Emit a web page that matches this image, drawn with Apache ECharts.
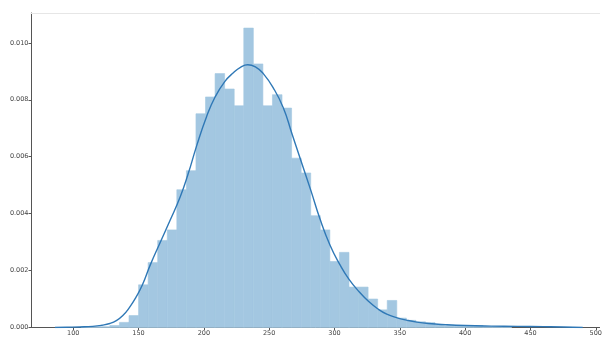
<!DOCTYPE html>
<html>
<head>
<meta charset="utf-8">
<script src="https://cdn.jsdelivr.net/npm/echarts@6/dist/echarts.min.js"></script>
<style>
  html, body { margin: 0; padding: 0; background: #fff; }
  #chart { width: 605px; height: 337px; }
</style>
</head>
<body>
<div id="chart"></div>
<script>
// Histogram bin edges (left edges, last entry closes the final bin)
const binEdges = [
  106.12, 113.44, 120.76, 128.08, 135.40, 142.72, 150.04, 157.36, 164.68, 172.00,
  179.32, 186.64, 193.96, 201.28, 208.60, 215.92, 223.24, 230.56, 237.88, 245.20,
  252.52, 259.84, 267.16, 274.48, 281.80, 289.12, 296.44, 303.76, 311.08, 318.40,
  325.72, 333.04, 340.36, 347.68, 355.00, 362.32, 369.64, 376.96, 384.28, 391.60,
  398.92, 406.24, 413.56, 420.88, 428.20, 435.52
];

// Normalised bin heights (density), one per bin
const binDensity = [
  0.00002, 0.00003, 0.00003, 0.00007, 0.00018, 0.00042, 0.00150, 0.00228, 0.00306, 0.00343,
  0.00484, 0.00551, 0.00751, 0.00810, 0.00892, 0.00838, 0.00779, 0.01052, 0.00926, 0.00779,
  0.00818, 0.00771, 0.00595, 0.00543, 0.00393, 0.00343, 0.00232, 0.00264, 0.00142, 0.00142,
  0.00100, 0.00062, 0.00095, 0.00033, 0.00025, 0.00020, 0.00017, 0.00010, 0.00008, 0.00007,
  0.00005, 0.00007, 0.00003, 0.00003, 0.00003
];

// Kernel density estimate: sample positions and heights
const kdeX = [
  86, 95, 105, 115, 122, 128, 133, 138, 143, 148,
  153, 159, 166.5, 174, 182, 188, 194.6, 202, 208.6, 216,
  222.6, 228, 233.6, 240, 245.5, 253, 260.8, 267.5, 274, 282,
  289, 296.5, 304, 311, 319, 326, 333, 340, 348, 355,
  363, 372, 385, 400, 420, 440, 460, 475, 490
];
const kdeY = [
  0, 0.00001, 0.00002, 0.00004, 0.00008, 0.00014, 0.00024, 0.00042, 0.00070, 0.00106,
  0.00150, 0.00220, 0.00298, 0.00375, 0.00460, 0.00540, 0.00640, 0.00740, 0.00810, 0.00864,
  0.00895, 0.00914, 0.00923, 0.00914, 0.00892, 0.00843, 0.00772, 0.00680, 0.00590, 0.00480,
  0.00380, 0.00290, 0.00222, 0.00170, 0.00125, 0.00092, 0.00066, 0.00047, 0.00034, 0.00026,
  0.00019, 0.00014, 0.00010, 0.00007, 0.00005, 0.00004, 0.00003, 0.00002, 0
];

// Axis tick values
const xTicks = [100, 150, 200, 250, 300, 350, 400, 450, 500];
const yTicks = [0, 0.002, 0.004, 0.006, 0.008, 0.010];

const histData = binDensity.map((d, i) => [binEdges[i], binEdges[i + 1], d]);
const kdeData = kdeX.map((x, i) => [x, kdeY[i]]);

const barColor = '#a3c7e1';
const labelStyle = { fontFamily: 'DejaVu Sans', fontSize: 6.5, color: '#444' };

const chart = echarts.init(document.getElementById('chart'), null, { renderer: 'canvas' });
chart.setOption({
  animation: false,
  backgroundColor: '#ffffff',
  grid: { left: 31, right: 5, top: 13, bottom: 9, containLabel: false },
  xAxis: [
    {
      type: 'value', min: 67.7, max: 502.9,
      axisLine: { show: true, lineStyle: { color: '#555', width: 1 } },
      axisTick: { show: true, customValues: xTicks, length: 2.5, lineStyle: { color: '#555' } },
      axisLabel: Object.assign({ show: true, customValues: xTicks, margin: 2.5 }, labelStyle),
      splitLine: { show: false }
    },
    {
      type: 'value', position: 'top', min: 67.7, max: 502.9,
      axisLine: { show: true, lineStyle: { color: '#e6e6e6', width: 1 } },
      axisTick: { show: false }, axisLabel: { show: false }, splitLine: { show: false }
    }
  ],
  yAxis: {
    type: 'value', min: 0, max: 0.01105,
    axisLine: { show: true, lineStyle: { color: '#555', width: 1 } },
    axisTick: { show: true, customValues: yTicks, length: 2.5, lineStyle: { color: '#555' } },
    axisLabel: Object.assign({
      show: true, customValues: yTicks, margin: 2.5,
      formatter: v => v.toFixed(3)
    }, labelStyle),
    splitLine: { show: false }
  },
  series: [
    {
      type: 'custom',
      xAxisIndex: 0,
      data: histData,
      encode: { x: [0, 1], y: 2 },
      renderItem: function (params, api) {
        const p0 = api.coord([api.value(0), api.value(2)]);
        const p1 = api.coord([api.value(1), 0]);
        return {
          type: 'rect',
          shape: { x: p0[0], y: p0[1], width: p1[0] - p0[0], height: p1[1] - p0[1] },
          style: { fill: barColor, stroke: barColor, lineWidth: 0.6 }
        };
      },
      z: 1
    },
    {
      type: 'line',
      xAxisIndex: 0,
      data: kdeData,
      smooth: 0.5,
      showSymbol: false,
      symbol: 'none',
      lineStyle: { color: '#2f78b6', width: 1.4 },
      z: 3
    }
  ]
});
</script>
</body>
</html>
